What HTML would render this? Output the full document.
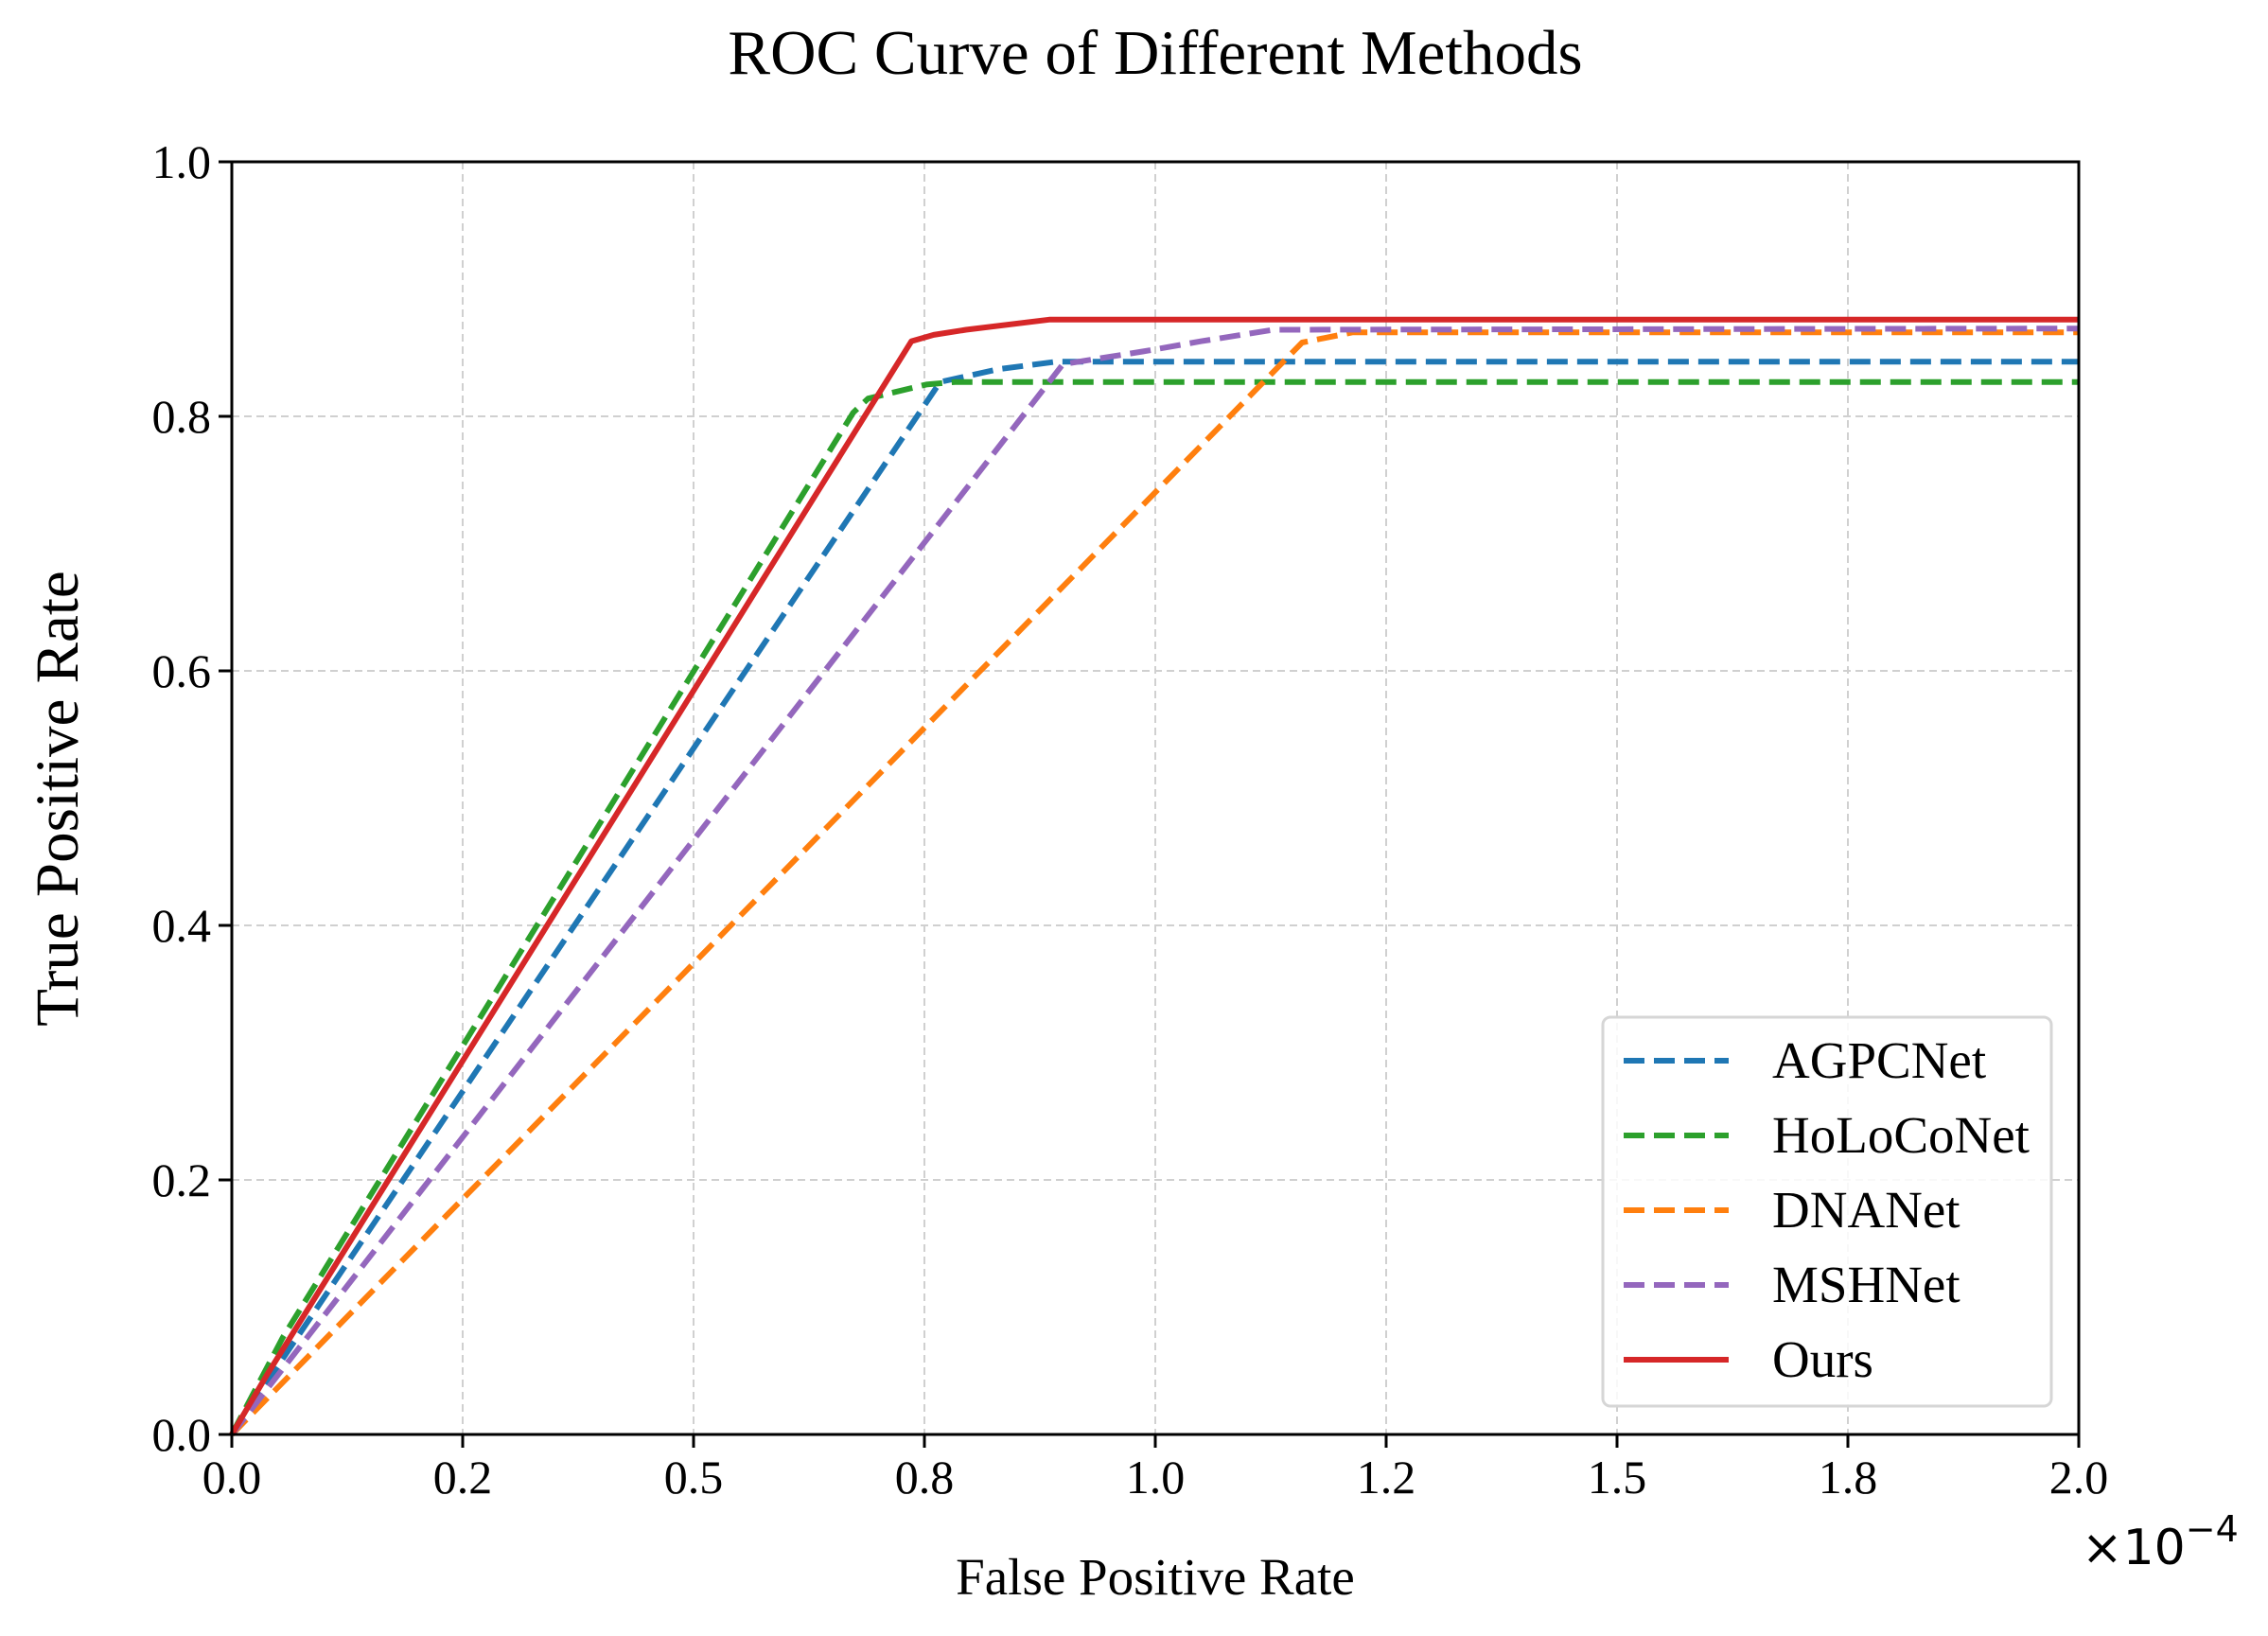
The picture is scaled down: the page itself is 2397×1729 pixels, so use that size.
<!DOCTYPE html>
<html><head><meta charset="utf-8"><style>
html,body{margin:0;padding:0;background:#fff}
svg text{font-family:"Liberation Serif",serif}
</style></head><body>
<svg id="chart" width="2397" height="1724" xmlns="http://www.w3.org/2000/svg">
<text x="1221" y="78" font-size="67" text-anchor="middle">ROC Curve of Different Methods</text>
<g id="grid"></g>
<g id="series"></g>
<rect x="245" y="171" width="1952" height="1345" fill="none" stroke="#000" stroke-width="3"/>
<g id="ticks"></g>
<text transform="translate(82,844) rotate(-90)" font-size="65" text-anchor="middle">True Positive Rate</text>
<text x="1221" y="1685" font-size="55" text-anchor="middle">False Positive Rate</text>
<text x="2200" y="1653" font-size="52" style="font-family:'DejaVu Sans',sans-serif">×10<tspan dy="-24" font-size="38">−4</tspan></text>
<g id="legend"></g>
</svg>
<script>
const xTicks=[0,0.25,0.5,0.75,1.0,1.25,1.5,1.75,2.0];
const xTickLabels=["0.0","0.2","0.5","0.8","1.0","1.2","1.5","1.8","2.0"];
const yTicks=[0,0.2,0.4,0.6,0.8,1.0];
const yTickLabels=["0.0","0.2","0.4","0.6","0.8","1.0"];
const seriesNames=["AGPCNet","HoLoCoNet","DNANet","MSHNet","Ours"];
const agpcX=[0,0.767,0.83,0.893,2.0];
const agpcY=[0,0.827,0.837,0.843,0.843];
const holoX=[0,0.055,0.673,0.689,0.752,0.783,2.0];
const holoY=[0,0.076,0.803,0.814,0.825,0.827,0.827];
const dnaX=[0,1.159,1.214,2.0];
const dnaY=[0,0.858,0.866,0.866];
const mshX=[0,0.90,0.987,1.05,1.128,2.0];
const mshY=[0,0.841,0.851,0.859,0.868,0.869];
const oursX=[0,0.039,0.736,0.76,0.795,0.885,2.0];
const oursY=[0,0.048,0.859,0.864,0.868,0.876,0.876];
const colors=["#1f77b4","#2ca02c","#ff7f0e","#9467bd","#d62728"];
const L=245,R=2197,T=171,B=1516;
const sx=v=>L+v/2.0*(R-L);
const sy=v=>B-v*(B-T);
const NS="http://www.w3.org/2000/svg";
function mk(tag,attrs,parent){const e=document.createElementNS(NS,tag);for(const k in attrs)e.setAttribute(k,attrs[k]);parent.appendChild(e);return e;}
const grid=document.getElementById('grid'),ticks=document.getElementById('ticks');
xTicks.forEach((v,i)=>{
  const g=mk('line',{x1:sx(v),x2:sx(v),y1:T,y2:B,stroke:'#d0d0d0','stroke-width':2,'stroke-dasharray':'8,5'},grid);
  
  
  const t=mk('line',{x1:sx(v),x2:sx(v),y1:B,y2:B+14,stroke:'#000','stroke-width':3},ticks);
  
  
  const l=mk('text',{x:sx(v),y:B+62,'font-size':50,'text-anchor':'middle'},ticks);
  l.textContent=xTickLabels[i];
  
  
});
yTicks.forEach((v,i)=>{
  const g=mk('line',{x1:L,x2:R,y1:sy(v),y2:sy(v),stroke:'#d0d0d0','stroke-width':2,'stroke-dasharray':'8,5'},grid);
  
  
  const t=mk('line',{x1:L-14,x2:L,y1:sy(v),y2:sy(v),stroke:'#000','stroke-width':3},ticks);
  
  
  const l=mk('text',{x:L-22,y:sy(v)+17,'font-size':50,'text-anchor':'end'},ticks);
  l.textContent=yTickLabels[i];
  
  
});
const seriesX=[agpcX,holoX,dnaX,mshX,oursX],seriesY=[agpcY,holoY,dnaY,mshY,oursY];
const sg=document.getElementById('series');
seriesX.forEach((xs,i)=>{
  const d=xs.map((x,j)=>(j?'L':'M')+sx(x).toFixed(1)+','+sy(seriesY[i][j]).toFixed(1)).join(' ');
  const a={d:d,fill:'none',stroke:colors[i],'stroke-width':6,'stroke-linejoin':'round'};
  if(i<4)a['stroke-dasharray']='22,10';
  const p=mk('path',a,sg);
  
  
});
const lg=document.getElementById('legend');
const box=mk('rect',{x:1694,y:1075,width:474,height:411,rx:8,fill:'#fff','fill-opacity':0.85,stroke:'#d6d6d6','stroke-width':3},lg);


seriesNames.forEach((n,i)=>{
  const y=1121+i*79;
  const a={x1:1716,x2:1827,y1:y,y2:y,stroke:colors[i],'stroke-width':6};
  if(i<4)a['stroke-dasharray']='22,10';
  const ln=mk('line',a,lg);
  
  
  const t=mk('text',{x:1873,y:y+18,'font-size':55},lg);
  t.textContent=n;
  
  
});
</script>
</body></html>
